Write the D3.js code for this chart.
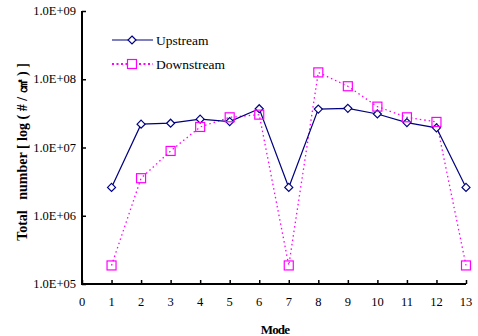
<!DOCTYPE html>
<html>
<head>
<meta charset="utf-8">
<script src="https://cdn.jsdelivr.net/npm/d3@7"></script>
<style>
  body { margin: 0; background: #fff; }
  text { font-family: "Liberation Serif", "Times New Roman", serif; }
</style>
</head>
<body>
<div id="rootDiv"></div>
<script>
const width = 478
const height = 336

const modes = [1, 2, 3, 4, 5, 6, 7, 8, 9, 10, 11, 12, 13]
const upstream = [2.6e6, 2.2e7, 2.27e7, 2.6e7, 2.4e7, 3.7e7, 2.6e6, 3.65e7, 3.75e7, 3.1e7, 2.32e7, 1.94e7, 2.6e6]
const downstream = [1.87e5, 3.55e6, 8.9e6, 2.0e7, 2.77e7, 3.03e7, 1.87e5, 1.26e8, 7.9e7, 3.97e7, 2.77e7, 2.37e7, 1.87e5]
const yTicks = [1e5, 1e6, 1e7, 1e8, 1e9]
const xTicks = d3.range(0, 14)
const seriesNames = ["Upstream", "Downstream"]

const navy = "#000080"
const magenta = "#ff00ff"

const margin = { left: 82, top: 11, right: 12, bottom: 52 }

const svg = d3.select("#rootDiv")
    .append("svg")
    .attr("width", width)
    .attr("height", height)

const x = d3.scaleLinear().domain([0, 13]).range([margin.left, 466])
const y = d3.scaleLog().domain([1e5, 1e9]).range([284, margin.top])

// axes
const yAxis = svg.append("g")
    .attr("transform", `translate(${margin.left},0)`)
    .call(d3.axisRight(y).tickValues(yTicks).tickSize(4).tickFormat(""))
yAxis.select(".domain").remove()
yAxis.selectAll(".tick line").attr("stroke", "#000").attr("stroke-width", 1.5)

const xAxis = svg.append("g")
    .attr("transform", `translate(0,${y(1e5)})`)
    .call(d3.axisTop(x).tickValues(xTicks).tickSize(4).tickFormat(""))
xAxis.select(".domain").remove()
xAxis.selectAll(".tick line").attr("stroke", "#000").attr("stroke-width", 1.5)

svg.append("path")
    .attr("d", `M${margin.left},${y(1e9)}V${y(1e5)}H${x(13)}`)
    .attr("fill", "none")
    .attr("stroke", "#000")
    .attr("stroke-width", 2)

svg.selectAll(".ylab")
    .data(yTicks)
    .enter()
    .append("text")
    .attr("x", 76)
    .attr("y", d => y(d) + 4)
    .attr("text-anchor", "end")
    .attr("font-size", 12.5)
    .attr("fill", "#000")
    .text(d => "1.0E+" + String(Math.round(Math.log10(d))).padStart(2, "0"))

svg.selectAll(".xlab")
    .data(xTicks)
    .enter()
    .append("text")
    .attr("x", d => x(d))
    .attr("y", 306)
    .attr("text-anchor", "middle")
    .attr("font-size", 12.5)
    .attr("fill", "#000")
    .text(d => d)

svg.append("text")
    .attr("x", 275)
    .attr("y", 334)
    .attr("text-anchor", "middle")
    .attr("font-size", 13)
    .attr("font-weight", "bold")
    .attr("letter-spacing", -0.8)
    .text("Mode")

svg.append("text")
    .attr("transform", "translate(27,152) rotate(-90)")
    .attr("text-anchor", "middle")
    .attr("font-size", 14)
    .attr("font-weight", "bold")
    .attr("xml:space", "preserve")
    .text("Total   number [ log ( # / ㎠ ) ]")

// lines
const line = d3.line()
    .x((d, i) => x(modes[i]))
    .y(d => y(d))

svg.append("path")
    .attr("d", line(downstream))
    .attr("fill", "none")
    .attr("stroke", magenta)
    .attr("stroke-width", 1.3)
    .attr("stroke-dasharray", "1.5,3")

svg.append("path")
    .attr("d", line(upstream))
    .attr("fill", "none")
    .attr("stroke", navy)
    .attr("stroke-width", 1.2)

const diamond = "M0,-4L4,0L0,4L-4,0Z"

svg.selectAll(".up")
    .data(upstream)
    .enter()
    .append("path")
    .attr("d", diamond)
    .attr("transform", (d, i) => `translate(${x(modes[i])},${y(d)})`)
    .attr("fill", "#fff")
    .attr("stroke", navy)
    .attr("stroke-width", 1.2)

svg.selectAll(".down")
    .data(downstream)
    .enter()
    .append("rect")
    .attr("x", (d, i) => x(modes[i]) - 4.5)
    .attr("y", d => y(d) - 4.5)
    .attr("width", 9)
    .attr("height", 9)
    .attr("fill", "none")
    .attr("stroke", magenta)
    .attr("stroke-width", 1.2)

// legend
const legend = svg.append("g")
const legY = [40, 64]
legend.append("line")
    .attr("x1", 112).attr("x2", 153).attr("y1", legY[0]).attr("y2", legY[0])
    .attr("stroke", navy).attr("stroke-width", 1.2)
legend.append("path")
    .attr("d", diamond)
    .attr("transform", `translate(132,${legY[0]})`)
    .attr("fill", "#fff").attr("stroke", navy).attr("stroke-width", 1.2)
legend.append("line")
    .attr("x1", 112).attr("x2", 153).attr("y1", legY[1]).attr("y2", legY[1])
    .attr("stroke", magenta).attr("stroke-width", 2).attr("stroke-dasharray", "2,2.5")
legend.append("rect")
    .attr("x", 127.5).attr("y", legY[1] - 4.5).attr("width", 9).attr("height", 9)
    .attr("fill", "#fff").attr("stroke", magenta).attr("stroke-width", 1.2)

legend.selectAll(".legtext")
    .data(seriesNames)
    .enter()
    .append("text")
    .attr("x", 156)
    .attr("y", (d, i) => legY[i] + 4.5)
    .attr("font-size", 13.5)
    .attr("fill", "#000")
    .text(d => d)
</script>
</body>
</html>
